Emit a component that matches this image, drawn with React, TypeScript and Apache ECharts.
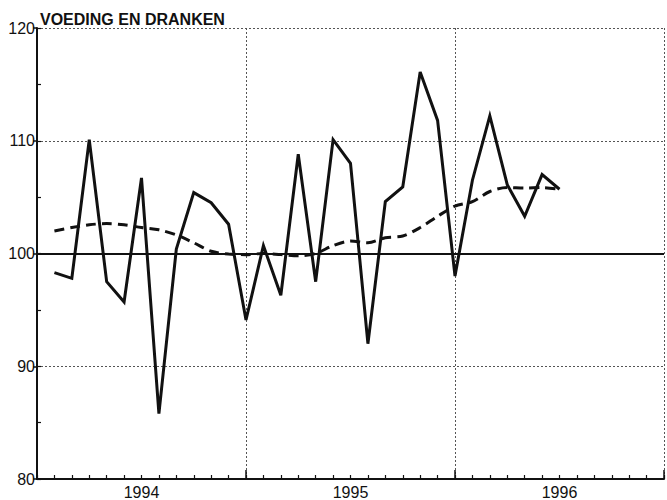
import React, { useEffect, useRef } from "react";
import * as echarts from "echarts";

const title = "VOEDING EN DRANKEN";
const months = [1, 2, 3, 4, 5, 6, 7, 8, 9, 10, 11, 12, 13, 14, 15, 16, 17, 18, 19, 20, 21, 22, 23, 24, 25, 26, 27, 28, 29, 30];
const monthly = [98.3, 97.8, 110.1, 97.5, 95.7, 106.7, 85.8, 100.4, 105.4, 104.5, 102.6, 94.1, 100.7, 96.3, 108.8, 97.5, 110.1, 108.0, 92.0, 104.6, 105.9, 116.1, 111.8, 98.0, 106.5, 112.2, 106.1, 103.3, 107.0, 105.7];
const trend = [102.0, 102.3, 102.55, 102.65, 102.55, 102.3, 102.1, 101.65, 100.95, 100.2, 99.95, 99.9, 100.0, 99.9, 99.8, 100.0, 100.7, 101.1, 100.95, 101.4, 101.55, 102.3, 103.3, 104.2, 104.6, 105.5, 105.85, 105.8, 105.85, 105.7];
const yearLabels: Record<number, string> = { 6: "1994", 18: "1995", 30: "1996" };

const font = "Liberation Sans";

export default function App() {
  const ref = useRef<HTMLDivElement>(null);
  useEffect(() => {
    if (!ref.current) return;
    const chart = echarts.init(ref.current, null, { renderer: "svg" });
    const ink = "#111";
    chart.setOption({
      animation: false,
      backgroundColor: "#fff",
      graphic: [
        {
          type: "text",
          left: 40,
          top: 11,
          style: { text: title, font: "bold 16px Liberation Sans", fill: ink },
        },
      ],
      grid: { left: 37, top: 28, right: 0, bottom: 16, containLabel: false },
      xAxis: [
        {
          type: "value",
          min: 0,
          max: 36,
          interval: 1,
          axisLine: { show: true, lineStyle: { color: ink, width: 2 } },
          axisTick: { show: true, inside: true, length: 4, lineStyle: { color: ink, width: 1.2 } },
          axisLabel: {
            show: true,
            margin: 5,
            formatter: (v: number) => yearLabels[v] || "",
            fontFamily: font,
            fontSize: 16,
            color: ink,
          },
          splitLine: { show: false },
        },
        {
          type: "value",
          min: 0,
          max: 36,
          interval: 12,
          position: "bottom",
          axisLine: { show: false },
          axisTick: { show: true, inside: true, length: 9, lineStyle: { color: ink, width: 1.5 } },
          axisLabel: { show: false },
          splitLine: { show: true, lineStyle: { color: "#555", width: 1, type: [2, 2] } },
        },
      ],
      yAxis: [
        {
          type: "value",
          min: 80,
          max: 120,
          interval: 10,
          axisLine: { show: true, lineStyle: { color: ink, width: 2 } },
          axisTick: { show: true, inside: false, length: 4, lineStyle: { color: ink, width: 1.5 } },
          axisLabel: { margin: 2, fontFamily: font, fontSize: 16, color: ink },
          splitLine: { show: true, lineStyle: { color: "#555", width: 1, type: [2, 2] } },
        },
        {
          type: "value",
          min: 80,
          max: 120,
          interval: 5,
          position: "left",
          axisLine: { show: false },
          axisTick: { show: true, inside: true, length: 4, lineStyle: { color: ink, width: 1.2 } },
          axisLabel: { show: false },
          splitLine: { show: false },
        },
      ],
      series: [
        {
          type: "line",
          data: months.map((m, i) => [m, monthly[i]]),
          showSymbol: false,
          lineStyle: { color: ink, width: 3, join: "miter" },
          z: 5,
          markLine: {
            silent: true,
            symbol: "none",
            label: { show: false },
            lineStyle: { color: ink, width: 2, type: "solid" },
            data: [{ yAxis: 100 }],
          },
        },
        {
          type: "line",
          data: months.map((m, i) => [m, trend[i]]),
          showSymbol: false,
          smooth: 0.3,
          lineStyle: { color: ink, width: 3, type: [10, 6] },
          z: 4,
        },
      ],
    });
    return () => chart.dispose();
  }, []);
  return (
    <div
      ref={ref}
      style={{ position: "fixed", left: 0, top: 0, width: 667, height: 500, background: "#fff" }}
    />
  );
}
